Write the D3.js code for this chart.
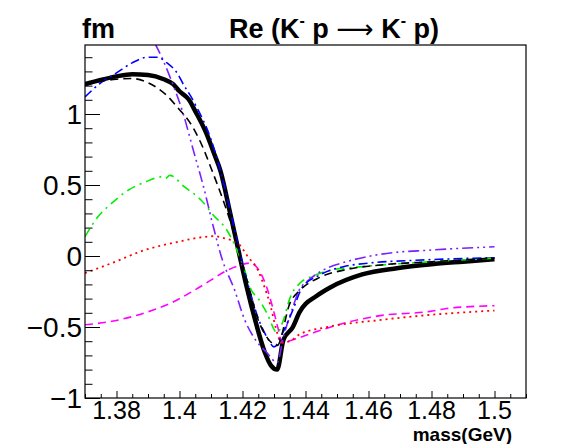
<!DOCTYPE html>
<html>
<head>
<meta charset="utf-8">
<script src="https://cdn.jsdelivr.net/npm/d3@7"></script>
<style>
  body { margin: 0; background: #fff; }
  svg { display: block; font-family: "Liberation Sans", Arial, sans-serif; }
</style>
</head>
<body>
<svg id="chart" width="567" height="444"></svg>
<script>
// values, [mass GeV, Re f (fm)]
var blackSolid = [[1.370,1.21],[1.375,1.24],[1.380,1.265],[1.385,1.28],[1.390,1.275],[1.395,1.245],
  [1.398,1.21],[1.400,1.16],[1.403,1.10],[1.405,1.02],[1.4086,0.86],[1.411,0.72],[1.413,0.60],
  [1.416,0.31],[1.4187,0.04],[1.4213,-0.215],[1.424,-0.45],[1.4271,-0.68],[1.429,-0.77],[1.431,-0.80],
  [1.433,-0.59],[1.436,-0.50],[1.438,-0.40],[1.4436,-0.28],[1.448,-0.22],[1.458,-0.13],[1.469,-0.086],
  [1.480,-0.058],[1.490,-0.04],[1.500,-0.023]];
var blackDashed = [[1.370,1.20],[1.375,1.23],[1.380,1.245],[1.385,1.25],[1.390,1.22],[1.396,1.13],
  [1.400,1.03],[1.403,0.95],[1.4065,0.81],[1.4107,0.58],[1.4139,0.39],[1.4166,0.21],[1.419,0.02],
  [1.422,-0.22],[1.425,-0.45],[1.428,-0.58],[1.431,-0.63],[1.4351,-0.33],[1.4383,-0.24],[1.4446,-0.15],
  [1.453,-0.095],[1.464,-0.063],[1.480,-0.04],[1.500,-0.016]];
var blueDashDot = [[1.370,1.12],[1.375,1.22],[1.380,1.29],[1.385,1.36],[1.390,1.40],[1.393,1.40],
  [1.396,1.36],[1.3995,1.28],[1.4012,1.21],[1.4037,1.12],[1.4054,1.05],[1.4097,0.84],[1.413,0.60],
  [1.416,0.33],[1.419,0.04],[1.422,-0.22],[1.425,-0.44],[1.428,-0.58],[1.430,-0.64],[1.433,-0.53],
  [1.436,-0.38],[1.439,-0.22],[1.444,-0.14],[1.452,-0.075],[1.460,-0.05],[1.475,-0.03],[1.500,-0.012]];
var violetDashDotDot = [[1.370,1.55],[1.380,1.62],[1.385,1.63],[1.390,1.58],[1.3926,1.48],[1.397,1.26],
  [1.4012,1.0],[1.4044,0.744],[1.4076,0.49],[1.4107,0.21],[1.4135,-0.02],[1.4175,-0.24],[1.4207,-0.45],
  [1.4234,-0.566],[1.4277,-0.68],[1.431,-0.75],[1.433,-0.57],[1.436,-0.36],[1.438,-0.24],[1.441,-0.17],
  [1.4457,-0.098],[1.453,-0.04],[1.4637,0.012],[1.480,0.042],[1.500,0.065]];
var greenDashDot = [[1.370,0.136],[1.3741,0.276],[1.3784,0.37],[1.3837,0.463],[1.389,0.52],[1.3942,0.557],
  [1.3955,0.545],[1.3969,0.568],[1.4016,0.486],[1.4069,0.393],[1.4112,0.276],[1.4143,0.206],[1.4175,0.08],
  [1.4207,-0.10],[1.4228,-0.24],[1.425,-0.30],[1.4277,-0.40],[1.431,-0.54],[1.433,-0.45],[1.435,-0.30],
  [1.4383,-0.19],[1.442,-0.145],[1.448,-0.10],[1.458,-0.075],[1.480,-0.04],[1.500,-0.016]];
var redDotted = [[1.370,-0.12],[1.3785,-0.05],[1.389,0.042],[1.3995,0.10],[1.408,0.135],[1.4112,0.14],
  [1.4143,0.124],[1.4186,0.089],[1.4217,-0.005],[1.4249,-0.10],[1.427,-0.22],[1.429,-0.36],[1.4305,-0.50],
  [1.4324,-0.61],[1.435,-0.60],[1.4383,-0.55],[1.447,-0.50],[1.464,-0.45],[1.480,-0.414],[1.500,-0.384]];
var magentaDashed = [[1.370,-0.484],[1.3785,-0.46],[1.389,-0.40],[1.3974,-0.33],[1.4048,-0.24],[1.4101,-0.168],
  [1.4143,-0.11],[1.4186,-0.07],[1.4224,-0.05],[1.4255,-0.11],[1.4276,-0.215],[1.4298,-0.38],[1.4314,-0.52],
  [1.4325,-0.61],[1.436,-0.59],[1.4425,-0.54],[1.451,-0.48],[1.4637,-0.42],[1.4795,-0.39],[1.4848,-0.37],
  [1.500,-0.35]];

var xTicks = [1.38, 1.40, 1.42, 1.44, 1.46, 1.48, 1.50];
var xTickLabels = ['1.38', '1.4', '1.42', '1.44', '1.46', '1.48', '1.5'];
var yTicks = [-1, -0.5, 0, 0.5, 1];
var yTickLabels = ['\u22121', '\u22120.5', '0', '0.5', '1'];

var svg = d3.select('#chart'),
  margin = { top: 45, left: 85 },
  w = 441,
  h = 353;

var x = d3.scaleLinear().domain([1.37, 1.51]).range([0, w]),
  y = d3.scaleLinear().domain([-1, 1.486]).range([h, 0]);

var g = svg.append('g')
  .attr('transform', 'translate(' + margin.left + ',' + margin.top + ')');

svg.append('defs').append('clipPath').attr('id', 'frame')
  .append('rect').attr('width', w).attr('height', h);

var line = d3.line()
  .x(function(d) { return x(d[0]); })
  .y(function(d) { return y(d[1]); })
  .curve(d3.curveMonotoneX);

var series = [
  { data: blackSolid, color: '#000', width: 4.5, dash: null },
  { data: magentaDashed, color: '#ff00ff', width: 1.6, dash: '8,5' },
  { data: redDotted, color: '#ff0000', width: 1.8, dash: '2,4' },
  { data: greenDashDot, color: '#00ee00', width: 1.6, dash: '9,5,2,5' },
  { data: violetDashDotDot, color: '#7a20ff', width: 1.6, dash: '11,4,2,4,2,4' },
  { data: blueDashDot, color: '#0000ff', width: 1.6, dash: '9,4,2,4' },
  { data: blackDashed, color: '#000', width: 1.6, dash: '8,5' }
];

var plot = g.append('g').attr('clip-path', 'url(#frame)');
plot.selectAll('path')
  .data(series)
  .enter()
  .append('path')
  .attr('d', function(d) { return line(d.data); })
  .attr('fill', 'none')
  .attr('stroke', function(d) { return d.color; })
  .attr('stroke-width', function(d) { return d.width; })
  .attr('stroke-dasharray', function(d) { return d.dash; })
  .attr('stroke-linejoin', 'round');

// frame
g.append('rect')
  .attr('width', w).attr('height', h)
  .attr('fill', 'none').attr('stroke', '#000').attr('stroke-width', 1.2);

// x axis: major 0.02, minor 0.005
var xAxis = d3.axisBottom(x)
  .tickValues(d3.range(1.37, 1.5101, 0.005))
  .tickSize(0)
  .tickFormat('');
var xg = g.append('g').attr('transform', 'translate(0,' + h + ')').call(xAxis);
xg.select('.domain').remove();
xg.selectAll('.tick line').remove();
xg.selectAll('.tick').append('line')
  .attr('y1', 0)
  .attr('y2', function(d) {
    return xTicks.some(function(t) { return Math.abs(t - d) < 1e-6; }) ? -7 : -4;
  })
  .attr('stroke', '#000');
g.append('g').selectAll('text')
  .data(xTicks)
  .enter()
  .append('text')
  .attr('x', function(d) { return x(d); })
  .attr('y', h + 21)
  .attr('text-anchor', 'middle')
  .attr('font-size', 25)
  .text(function(d, i) { return xTickLabels[i]; });

// y axis: major 0.5, minor 0.1
var yAxis = d3.axisLeft(y)
  .tickValues(d3.range(-1, 1.45, 0.1))
  .tickSize(0)
  .tickFormat('');
var yg = g.append('g').call(yAxis);
yg.select('.domain').remove();
yg.selectAll('.tick line').remove();
yg.selectAll('.tick').append('line')
  .attr('x1', 0)
  .attr('x2', function(d) {
    return yTicks.some(function(t) { return Math.abs(t - d) < 1e-6; }) ? 15 : 7.5;
  })
  .attr('stroke', '#000');
g.append('g').selectAll('text')
  .data(yTicks)
  .enter()
  .append('text')
  .attr('x', -3)
  .attr('y', function(d) { return y(d); })
  .attr('dy', '0.36em')
  .attr('text-anchor', 'end')
  .attr('font-size', 28)
  .text(function(d, i) { return yTickLabels[i]; });

// titles
svg.append('text')
  .attr('x', 82).attr('y', 38)
  .attr('font-size', 27).attr('font-weight', 'bold')
  .text('fm');

var title = svg.append('text')
  .attr('x', 334).attr('y', 38)
  .attr('text-anchor', 'middle')
  .attr('font-size', 27).attr('font-weight', 'bold');
title.append('tspan').text('Re (K');
title.append('tspan').attr('font-size', 16).attr('dy', -12).text('-');
title.append('tspan').attr('dy', 12).text(' p ');
title.append('tspan').attr('font-weight', 'normal').attr('font-size', 26)
  .attr('font-family', '"DejaVu Sans", sans-serif').text('\u27F6');
title.append('tspan').text(' K');
title.append('tspan').attr('font-size', 16).attr('dy', -12).text('-');
title.append('tspan').attr('dy', 12).text(' p)');

svg.append('text')
  .attr('x', 512).attr('y', 441)
  .attr('text-anchor', 'end')
  .attr('font-size', 19).attr('font-weight', 'bold')
  .text('mass(GeV)');
</script>
</body>
</html>
